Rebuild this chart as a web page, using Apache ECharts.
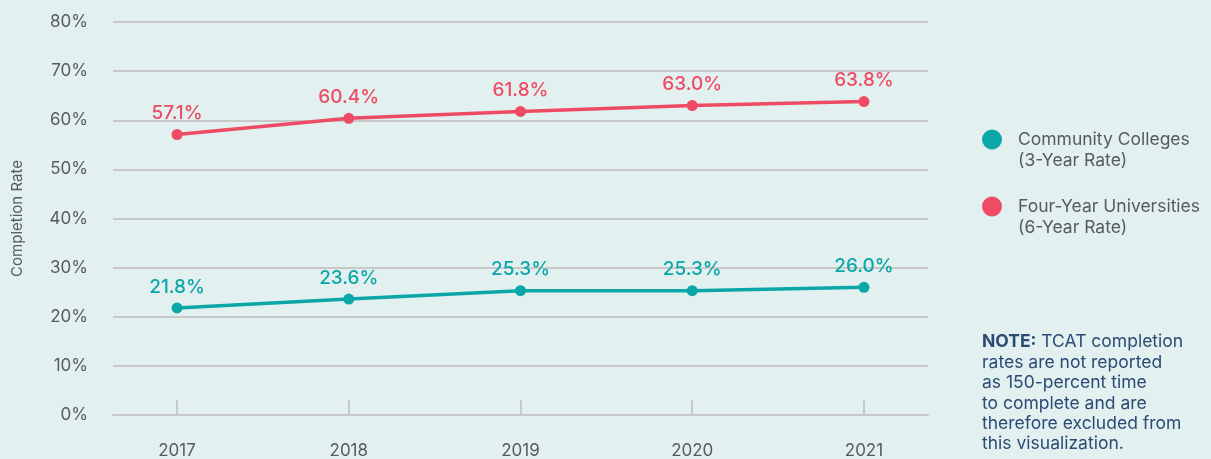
<!DOCTYPE html>
<html>
<head>
<meta charset="utf-8">
<script src="https://cdn.jsdelivr.net/npm/echarts@6/dist/echarts.min.js"></script>
<style>
  html, body { margin: 0; padding: 0; background: #e2f0f0; }
  #chart { width: 1211px; height: 459px; }
</style>
</head>
<body>
<div id="chart"></div>
<script>
// data
var years = [2017, 2018, 2019, 2020, 2021];
var communityColleges = [21.8, 23.6, 25.3, 25.3, 26.0];
var fourYearUniversities = [57.1, 60.4, 61.8, 63.0, 63.8];
var seriesNames = ['Community Colleges\n(3-Year Rate)', 'Four-Year Universities\n(6-Year Rate)'];
var seriesColors = ['#0aa6a8', '#ef4b64'];

var fontFamily = 'Inter, "Noto Sans", sans-serif';

function pairs(values) {
  return years.map(function (y, i) { return [y, values[i]]; });
}

function makeSeries(name, values, color) {
  return {
    name: name,
    type: 'line',
    data: pairs(values),
    symbol: 'circle',
    symbolSize: 11,
    lineStyle: { color: color, width: 3.5 },
    itemStyle: { color: color },
    label: {
      show: true,
      position: 'top',
      distance: 6,
      color: color,
      fontSize: 19,
      fontWeight: 500,
      fontFamily: fontFamily,
      formatter: function (p) { return p.value[1].toFixed(1) + '%'; }
    }
  };
}

var dom = document.getElementById('chart');
var myChart = echarts.init(dom, null, { renderer: 'canvas' });

var option = {
  backgroundColor: '#e2f0f0',
  animation: false,
  grid: { left: 113, right: 283, top: 22, bottom: 44 },
  legend: {
    orient: 'vertical',
    left: 982,
    top: 108,
    padding: 0,
    itemWidth: 20,
    itemHeight: 20,
    itemGap: 4,
    icon: 'circle',
    data: seriesNames,
    // leading blank line keeps the icon level with the first text line
    formatter: function (name) { return '\n' + name; },
    textStyle: {
      color: '#5a5a5a',
      fontSize: 17.5,
      fontFamily: fontFamily,
      lineHeight: 21,
      padding: [0, 0, 0, 11]
    }
  },
  xAxis: {
    type: 'value',
    min: 2016.627,
    max: 2021.373,
    splitLine: { show: false },
    axisLine: { show: true, lineStyle: { color: '#c8c8c8', width: 2 } },
    axisTick: {
      show: true,
      inside: true,
      length: 15,
      customValues: years,
      lineStyle: { color: '#c8c8c8', width: 2 }
    },
    axisLabel: {
      customValues: years,
      margin: 27,
      color: '#5a5a5a',
      fontSize: 17,
      fontFamily: fontFamily,
      formatter: function (v) { return String(v); }
    }
  },
  yAxis: {
    type: 'value',
    min: 0,
    max: 80,
    interval: 10,
    name: 'Completion Rate',
    nameLocation: 'middle',
    nameGap: 88,
    nameRotate: 90,
    nameTextStyle: { color: '#5a5a5a', fontSize: 15, fontFamily: fontFamily },
    axisLine: { show: false },
    axisTick: { show: false },
    splitLine: { lineStyle: { color: '#c8c8c8', width: 2 } },
    axisLabel: {
      margin: 25,
      color: '#5a5a5a',
      fontSize: 17,
      fontFamily: fontFamily,
      formatter: '{value}%'
    }
  },
  series: [
    makeSeries(seriesNames[0], communityColleges, seriesColors[0]),
    makeSeries(seriesNames[1], fourYearUniversities, seriesColors[1])
  ],
  graphic: [{
    type: 'text',
    left: 982,
    top: 332,
    style: {
      text: '{b|NOTE:} TCAT completion\nrates are not reported\nas 150-percent time\nto complete and are\ntherefore excluded from\nthis visualization.',
      fill: '#2b4b74',
      fontSize: 17.5,
      lineHeight: 20.4,
      fontFamily: fontFamily,
      rich: {
        b: { fontWeight: 'bold', fontSize: 17.5, fill: '#2b4b74', fontFamily: fontFamily, lineHeight: 20.4 }
      }
    }
  }]
};

if (option && typeof option === 'object') {
  myChart.setOption(option);
}
</script>
</body>
</html>
